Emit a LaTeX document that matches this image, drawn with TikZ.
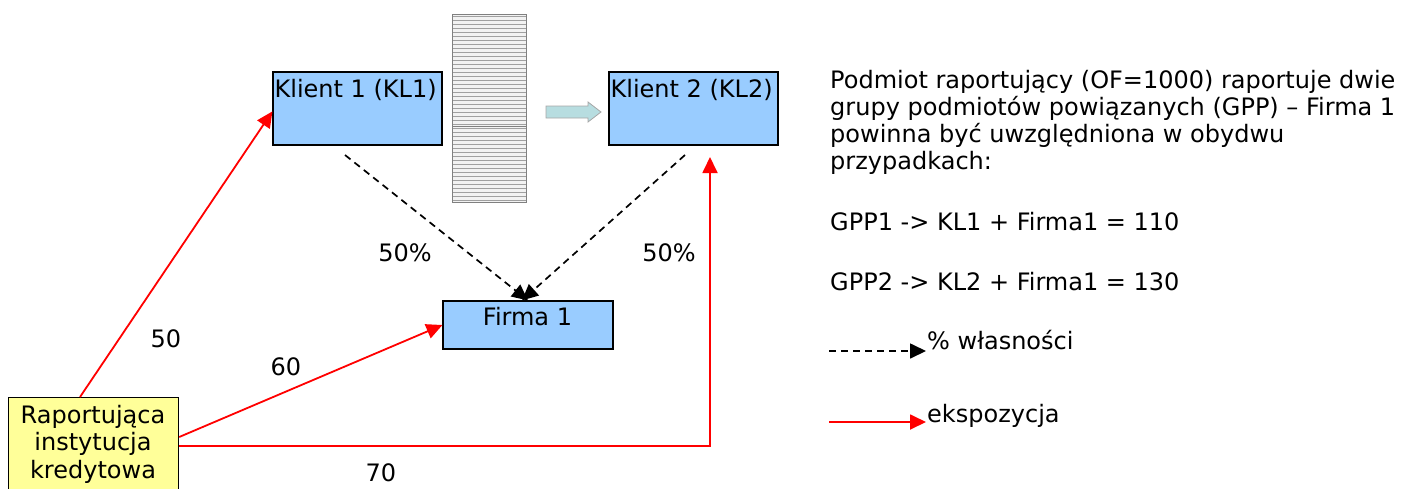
\documentclass[tikz,border=0pt]{standalone}
\usepackage{fontspec}
\setmainfont{DejaVu Sans}
\usetikzlibrary{arrows.meta,positioning}

\definecolor{boxblue}{HTML}{99CCFF}
\definecolor{boxyellow}{HTML}{FFFF99}
\definecolor{wallgray}{HTML}{F2F2F2}
\definecolor{wallline}{HTML}{A0A0A0}
\definecolor{blockarrow}{HTML}{B7DDE0}

\tikzset{
  entity/.style={draw=black, line width=1.2pt, fill=boxblue, inner sep=0pt},
  bigtext/.style={font=\fontsize{24}{26.8}\selectfont},
  expo/.style={draw=red, line width=1.8pt, -{Triangle[length=16pt,width=15pt]}},
  owner/.style={draw=black, line width=1.7pt, dash pattern=on 7pt off 5pt, -{Triangle[length=16pt,width=15pt]}},
  lbl/.style={anchor=base, inner sep=0pt},
}

\begin{document}
\begin{tikzpicture}[x=1pt, y=-1pt, bigtext]

		\useasboundingbox (0,0) rectangle (1408,488);

		% Wall between the clients
		\fill[wallgray] (452,14) rectangle (526,202);
		\foreach \yy in {16,20,...,200}
			\draw[wallline, line width=0.6pt] (452,\yy) -- (526,\yy);
		\draw[gray, line width=1pt] (452,126) -- (526,126);
		\draw[wallline!80!black, line width=1pt] (452,14) rectangle (526,202);

		% Block arrow
		\filldraw[fill=blockarrow, draw=gray!70, line width=0.8pt]
			(546,106) -- (588,106) -- (588,102) -- (601,112) -- (588,122) -- (588,118) -- (546,118) -- cycle;

		% Boxes
		\node[entity, minimum width=169pt, minimum height=73pt] (kl1) at (357.5,108.5) {};
		\node[anchor=base west, inner sep=0pt] (kl1txt) at ([xshift=2pt, yshift=-26pt]kl1.north west) {Klient 1 (KL1)};
		\node[entity, minimum width=169pt, minimum height=73pt] (kl2) at (693.5,108.5) {};
		\node[anchor=base west, inner sep=0pt] (kl2txt) at ([xshift=2pt, yshift=-26pt]kl2.north west) {Klient 2 (KL2)};
		\node[entity, minimum width=170pt, minimum height=48pt] (firma) at (528,325) {};
		\node[lbl] (firmatxt) at (527.5,325) {Firma 1};
		\node[draw=black, line width=1.2pt, fill=boxyellow, minimum width=170pt, minimum height=110pt,
			anchor=north west, inner sep=0pt] (rik) at (8,397) {};
		\node[align=center, anchor=base, inner sep=0pt, font=\fontsize{24}{27.5}\selectfont] (riktxt) at (93,478)
			{Raportująca\\instytucja\\kredytowa};

		% Exposures
		\coordinate (kl2in) at (710,157);
		\draw[expo] ([xshift=72pt]rik.north west) -- ([yshift=-40pt]kl1.north west);
		\draw[expo] ([yshift=-40pt]rik.north east) -- (firma.west);
		\draw[expo] ([yshift=-49pt]rik.north east) -| (kl2in);

		% Ownership
		\coordinate (kl1out) at (345,155);
		\coordinate (kl2out) at (685,155);
		\draw[owner] (kl1out) -- ([xshift=0pt]firma.north);
		\draw[owner] (kl2out) -- ([xshift=-6pt]firma.north);

		% Labels
		\node[lbl] (p1) at (405,261) {50\%};
		\node[lbl] (p2) at (669,261) {50\%};
		\node[lbl] (e1) at (166,347) {50};
		\node[lbl] (e2) at (286,375) {60};
		\node[lbl] (e3) at (381,481) {70};

		% Description
		\node[anchor=base west, align=left, inner sep=0pt] (desc) at (830,169)
			{Podmiot raportujący (OF=1000) raportuje dwie\\
			 grupy podmiotów powiązanych (GPP) – Firma 1\\
			 powinna być uwzględniona w obydwu\\
			 przypadkach:};
		\node[anchor=base west, inner sep=0pt] (gpp1) at (830,230) {GPP1 -> KL1 + Firma1 = 110};
		\node[anchor=base west, inner sep=0pt] (gpp2) at (830,290) {GPP2 -> KL2 + Firma1 = 130};

		% Legend
		\coordinate (lg1a) at (829,351);
		\coordinate (lg1b) at (926,351);
		\coordinate (lg2a) at (829,422);
		\coordinate (lg2b) at (926,422);
		\draw[owner] (lg1a) -- (lg1b);
		\node[anchor=base west, inner sep=0pt] (lgown) at (927,349) {\% własności};
		\draw[expo] (lg2a) -- (lg2b);
		\node[anchor=base west, inner sep=0pt] (lgexp) at (927,422) {ekspozycja};

	\end{tikzpicture}
\end{document}
